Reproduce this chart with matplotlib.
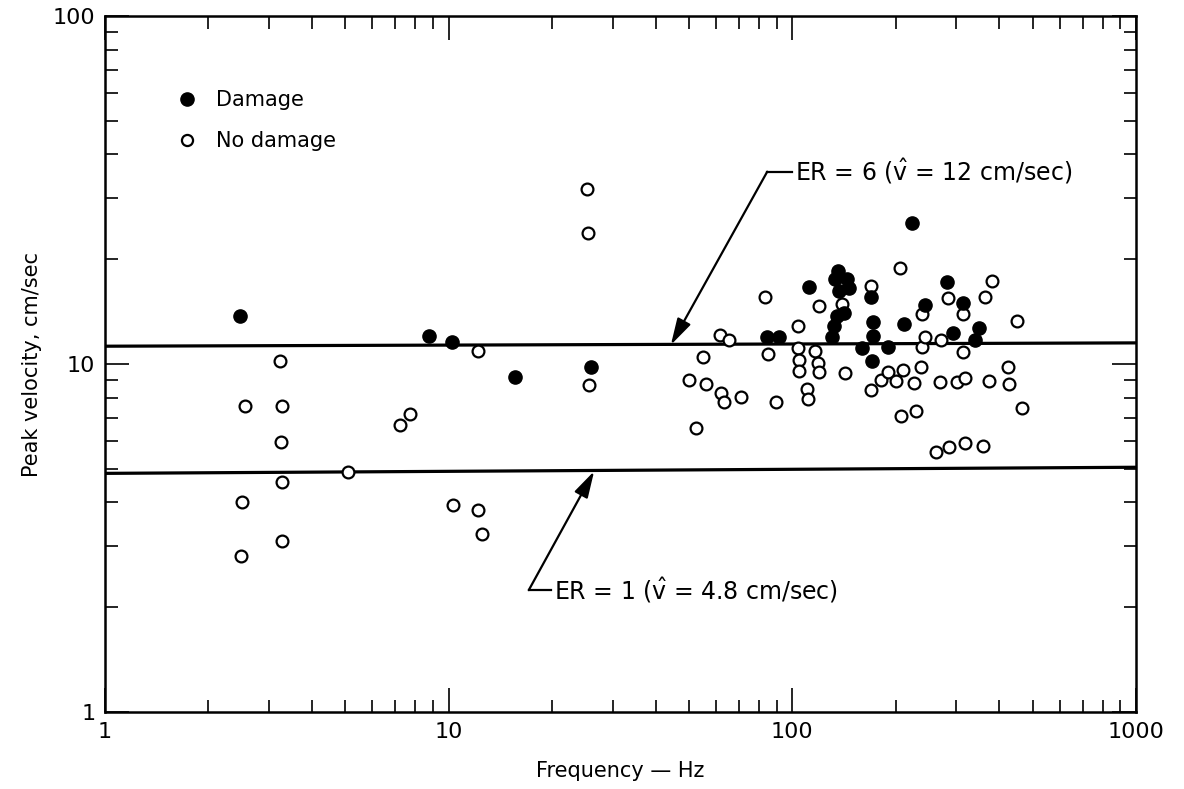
import matplotlib.pyplot as plt
from matplotlib.lines import Line2D

plt.rcParams['font.family'] = ['DejaVu Sans']
plt.rcParams['mathtext.fontset'] = 'custom'
plt.rcParams['mathtext.rm'] = 'DejaVu Sans'
plt.rcParams['mathtext.it'] = 'DejaVu Sans'

# Damage points (frequency Hz, peak velocity cm/sec)
damage_f = [2.47, 8.74, 10.2, 15.6, 25.9, 84.4, 91.6, 111.6, 135.5, 132.8,
            144.4, 136.3, 146, 141.8, 134.6, 132.3, 130.5, 159.7, 169.3, 171.4,
            171.4, 170.7, 189.6, 211, 222.8, 242.6, 282.6, 293.4, 314.5, 348.6, 341]
damage_v = [13.7, 12.06, 11.6, 9.2, 9.8, 11.93, 11.93, 16.6, 18.5, 17.5,
            17.6, 16.2, 16.5, 14.0, 13.7, 12.9, 11.98, 11.14, 15.6, 13.2,
            12.06, 10.2, 11.17, 13.0, 25.5, 14.75, 17.2, 12.25, 15.0, 12.66, 11.72]

# No damage points
nodmg_f = [2.49, 2.5, 2.56, 3.23, 3.27, 3.25, 3.27, 3.28, 5.09, 7.2,
           7.73, 10.3, 12.15, 12.5, 12.2, 25.3, 25.5, 25.6, 49.9, 52.4,
           54.8, 56.0, 61.7, 65.4, 61.8, 63.1, 70.8, 83.4, 84.9, 89.4,
           103.6, 103.6, 104.3, 104.3, 110.6, 111, 116.7, 118.8, 119.8, 119.6,
           139.6, 142, 168.8, 169.2, 181.4, 190, 199.6, 206, 206.9, 209.7,
           225.8, 228.4, 237.3, 237.7, 238.9, 242.6, 262.4, 268.4, 271.4, 284.6,
           285.5, 302, 313.8, 314.5, 317.3, 318.8, 358.8, 363, 373.6, 382,
           422.7, 426.3, 449, 466.3]
nodmg_v = [2.8, 4.02, 7.59, 10.2, 7.59, 5.98, 4.59, 3.1, 4.88, 6.68,
           7.18, 3.93, 3.81, 3.24, 10.9, 31.8, 23.8, 8.69, 9.0, 6.55,
           10.45, 8.76, 12.1, 11.7, 8.27, 7.78, 8.02, 15.6, 10.7, 7.79,
           12.9, 11.1, 10.25, 9.55, 8.46, 7.93, 10.9, 10.1, 9.46, 14.7,
           14.9, 9.4, 16.8, 8.42, 9.0, 9.47, 8.96, 18.9, 7.1, 9.61,
           8.84, 7.34, 9.78, 13.9, 11.21, 11.93, 5.6, 8.86, 11.72, 15.5,
           5.79, 8.88, 10.85, 13.9, 9.1, 5.92, 5.82, 15.6, 8.94, 17.35,
           9.82, 8.74, 13.3, 7.49]

# ER threshold lines (as drawn, slight tilt in original)
line_f = [1, 1000]
er6_v = [11.25, 11.5]
er1_v = [4.85, 5.05]

fig = plt.figure(figsize=(11.84, 7.89), dpi=100)
ax = fig.add_axes([0.0887, 0.0976, 0.8708, 0.8821])

ax.plot(line_f, er6_v, color='black', lw=2.3, zorder=2)
ax.plot(line_f, er1_v, color='black', lw=2.3, zorder=2)

ax.plot(nodmg_f, nodmg_v, 'o', ms=8.5, mfc='white', mec='black', mew=1.6,
        ls='none', zorder=3)
ax.plot(damage_f, damage_v, 'o', ms=9.5, mfc='black', mec='black',
        ls='none', zorder=4)

ax.set_xscale('log')
ax.set_yscale('log')
ax.set_xlim(1, 1000)
ax.set_ylim(1, 100)

ax.set_xticks([1, 10, 100, 1000])
ax.set_xticklabels(['1', '10', '100', '1000'])
ax.set_yticks([1, 10, 100])
ax.set_yticklabels(['1', '10', '100'])
ax.tick_params(which='both', direction='in', top=True, right=True, labelsize=16)
ax.tick_params(which='major', length=17, width=1.2, pad=7)
ax.tick_params(which='minor', length=9, width=1.2)
for s in ax.spines.values():
    s.set_linewidth(1.8)

ax.set_xlabel('Frequency — Hz', fontsize=15, labelpad=14)
ax.set_ylabel('Peak velocity, cm/sec', fontsize=15, labelpad=8)

# annotations
arrow = dict(arrowstyle='-|>,head_length=0.9,head_width=0.25', color='black',
             lw=1.6, mutation_scale=18, shrinkA=0, shrinkB=0)
ax.annotate('', xy=(44.3, 11.35), xytext=(84.5, 35.7), arrowprops=arrow)
ax.plot([84.5, 100], [35.7, 35.7], color='black', lw=1.6)
ax.text(102, 35.7, r'ER = 6 ($\hat{\mathrm{v}}$ = 12 cm/sec)', fontsize=17,
        va='center', ha='left')

ax.annotate('', xy=(26.5, 4.92), xytext=(17.1, 2.24), arrowprops=arrow)
ax.plot([17.1, 19.8], [2.24, 2.24], color='black', lw=1.6)
ax.text(20.2, 2.24, r'ER = 1 ($\hat{\mathrm{v}}$ = 4.8 cm/sec)', fontsize=17,
        va='center', ha='left')

handles = [Line2D([], [], marker='o', ls='none', ms=9.5, mfc='black', mec='black'),
           Line2D([], [], marker='o', ls='none', ms=8, mfc='white', mec='black', mew=1.6)]
ax.legend(handles, ['Damage', 'No damage'], loc='upper left',
          bbox_to_anchor=(0.049, 0.92), frameon=False, fontsize=15,
          handlelength=1.2, handletextpad=0.8, labelspacing=1.0)

plt.savefig('out.png', dpi=100)
